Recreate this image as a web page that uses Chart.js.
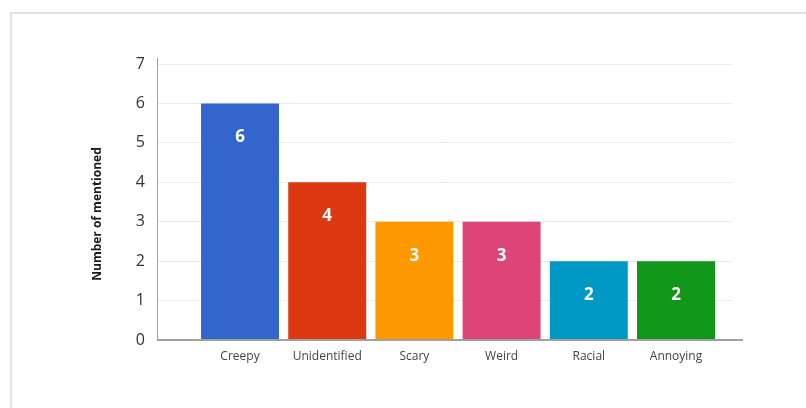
<!DOCTYPE html>
<html lang="en">
<head>
    <meta charset="UTF-8">
    <title>Number of mentioned</title>
    <script src="https://cdn.jsdelivr.net/npm/chart.js"></script>
    <style>
        html, body { margin: 0; padding: 0; background: #fff; overflow: hidden; }
        #wrap { position: relative; width: 806px; height: 408px; }
        #frame { position: absolute; left: 10px; top: 12px; width: 900px; height: 500px; border: 2px solid #e2e2e2; }
        canvas { position: absolute; left: 0; top: 0; }
    </style>
</head>
<body>
    <div id="wrap">
        <div id="frame"></div>
        <canvas id="mentionsChart" width="806" height="408"></canvas>
    </div>

    <script>
        const categories = ['Creepy', 'Unidentified', 'Scary', 'Weird', 'Racial', 'Annoying'];
        const mentions = [6, 4, 3, 3, 2, 2];
        const barColors = ['#3366cc', '#dc3912', '#ff9900', '#dd4477', '#0099c6', '#109618'];
        const yTicks = [0, 1, 2, 3, 4, 5, 6, 7];
        const yTitle = 'Number of mentioned';

        const font = "'Open Sans', 'DejaVu Sans', sans-serif";

        // white value label inside each bar, axis line extensions and the y title
        const barLabels = {
            id: 'barLabels',
            afterDatasetsDraw(chart) {
                const ctx = chart.ctx;
                const area = chart.chartArea;
                ctx.save();
                ctx.strokeStyle = '#a0a0a0';
                ctx.lineWidth = 2;
                ctx.beginPath();
                ctx.moveTo(area.left, area.bottom);
                ctx.lineTo(area.right + 11, area.bottom);
                ctx.stroke();
                ctx.lineWidth = 1;
                ctx.beginPath();
                ctx.moveTo(area.left + 0.5, area.top - 6);
                ctx.lineTo(area.left + 0.5, area.bottom);
                ctx.stroke();

                ctx.fillStyle = '#ffffff';
                ctx.font = 'bold 17px ' + font;
                ctx.textAlign = 'center';
                ctx.textBaseline = 'middle';
                chart.getDatasetMeta(0).data.forEach((bar, i) => {
                    ctx.fillText(String(mentions[i]), bar.x, bar.y + 34);
                });

                // y axis title, sits a bit below the middle of the plot
                ctx.fillStyle = '#1a1a1a';
                ctx.font = 'bold 12px ' + font;
                ctx.translate(98, (area.top + area.bottom) / 2 + 12);
                ctx.rotate(-Math.PI / 2);
                ctx.fillText(yTitle, 0, 0);
                ctx.restore();
            }
        };

        new Chart(document.getElementById('mentionsChart'), {
            type: 'bar',
            data: {
                datasets: [{
                    data: mentions.map((v, i) => ({ x: i, y: v })),
                    backgroundColor: barColors,
                    borderWidth: 0,
                    categoryPercentage: 0.894,
                    barPercentage: 1
                }]
            },
            options: {
                responsive: false,
                animation: false,
                layout: { padding: { top: 64, right: 74, left: 0, bottom: 0 } },
                plugins: { legend: { display: false }, tooltip: { enabled: false } },
                scales: {
                    x: {
                        type: 'linear',
                        min: -0.952,
                        max: 5.642,
                        offset: false,
                        grid: { display: false, drawTicks: false, offset: false },
                        border: { display: false },
                        afterBuildTicks: (scale) => {
                            scale.ticks = categories.map((_, i) => ({ value: i }));
                        },
                        afterFit: (scale) => { scale.height = 68; },
                        ticks: {
                            autoSkip: false,
                            maxRotation: 0,
                            padding: 9,
                            color: '#444',
                            font: { family: font, size: 12 },
                            callback: (v) => categories[v]
                        }
                    },
                    y: {
                        min: 0,
                        max: 7,
                        afterBuildTicks: (scale) => {
                            scale.ticks = yTicks.map(v => ({ value: v }));
                        },
                        afterFit: (scale) => { scale.width = 157; },
                        grid: { color: '#ebebeb', lineWidth: 1, drawTicks: false },
                        border: { display: false },
                        ticks: {
                            padding: 12,
                            color: '#333',
                            font: { family: font, size: 16 }
                        }
                    }
                }
            },
            plugins: [barLabels]
        });
    </script>
</body>
</html>
